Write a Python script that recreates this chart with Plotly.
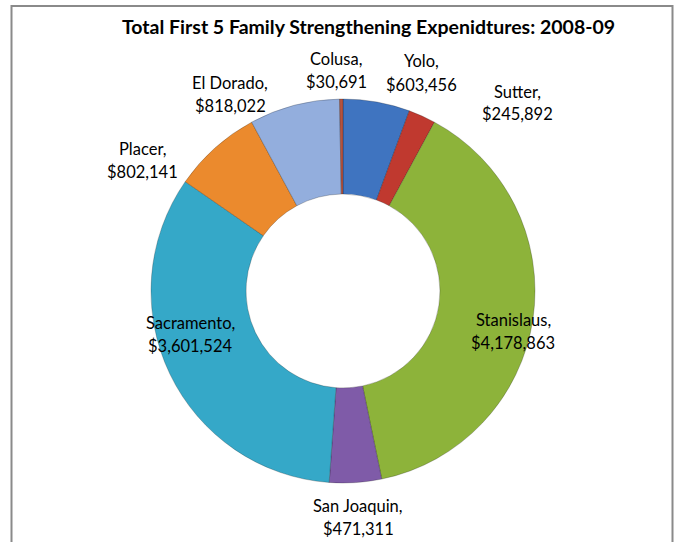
import plotly.graph_objects as go

# ---- data ----
counties = ["Yolo", "Sutter", "Stanislaus", "San Joaquin", "Sacramento",
            "Placer", "El Dorado", "Colusa"]
expenditures = [603456, 245892, 4178863, 471311, 3601524, 802141, 818022, 30691]
title_text = "Total First 5 Family Strengthening Expenidtures: 2008-09"

# ---- style ----
colors = ["#3F74C0", "#C0392F", "#8DB33A", "#7F5BA8", "#35A8C8",
          "#EB8A2D", "#93AEDD", "#B5533F"]
W, H = 676, 542
CX, CY, R = 343, 291, 192

# label anchor positions (pixels, layout only)
label_pos = {
    "Yolo": (421, 73),
    "Sutter": (517, 103),
    "Stanislaus": (513, 331),
    "San Joaquin": (358, 517),
    "Sacramento": (190, 334),
    "Placer": (142, 160),
    "El Dorado": (230, 95),
    "Colusa": (336, 70),
}
LINE_GAP = 23
FONT = "Lato, 'Open Sans', sans-serif"

fig = go.Figure()
fig.add_trace(go.Pie(
    labels=counties,
    values=expenditures,
    sort=False,
    direction="clockwise",
    rotation=0,
    hole=0.505,
    marker=dict(colors=colors, line=dict(color="rgba(0,0,0,0.22)", width=1)),
    textinfo="none",
    hoverinfo="label+value+percent",
    showlegend=False,
    domain=dict(x=[(CX - R) / W, (CX + R) / W],
                y=[(H - CY - R) / H, (H - CY + R) / H]),
))

annotations = []
for name, val in zip(counties, expenditures):
    px, py = label_pos[name]
    for i, txt in enumerate([name + ",", "${:,}".format(val)]):
        yy = py + (i - 0.5) * LINE_GAP
        annotations.append(dict(
            x=px / W, y=1 - yy / H, xref="paper", yref="paper",
            text=txt, showarrow=False, xanchor="center", yanchor="middle",
            font=dict(family=FONT, size=16.5, color="#000000"),
        ))

annotations.append(dict(
    x=369 / W, y=1 - 27 / H, xref="paper", yref="paper",
    text="<b>" + title_text + "</b>", showarrow=False,
    xanchor="center", yanchor="middle",
    font=dict(family=FONT, size=19.5, color="#000000"),
))

fig.update_layout(
    width=W, height=H,
    margin=dict(l=0, r=0, t=0, b=0),
    paper_bgcolor="white", plot_bgcolor="white",
    annotations=annotations,
    shapes=[dict(type="rect", xref="paper", yref="paper",
                 x0=11.5 / W, x1=672.5 / W, y0=-0.1, y1=1 - 6 / H,
                 line=dict(color="#8a8a8a", width=2), layer="above")],
)

fig.write_html(
    "out.html",
    config={"displayModeBar": False},
    post_script="document.body.style.margin='0';"
                "document.body.style.overflow='hidden';",
)
